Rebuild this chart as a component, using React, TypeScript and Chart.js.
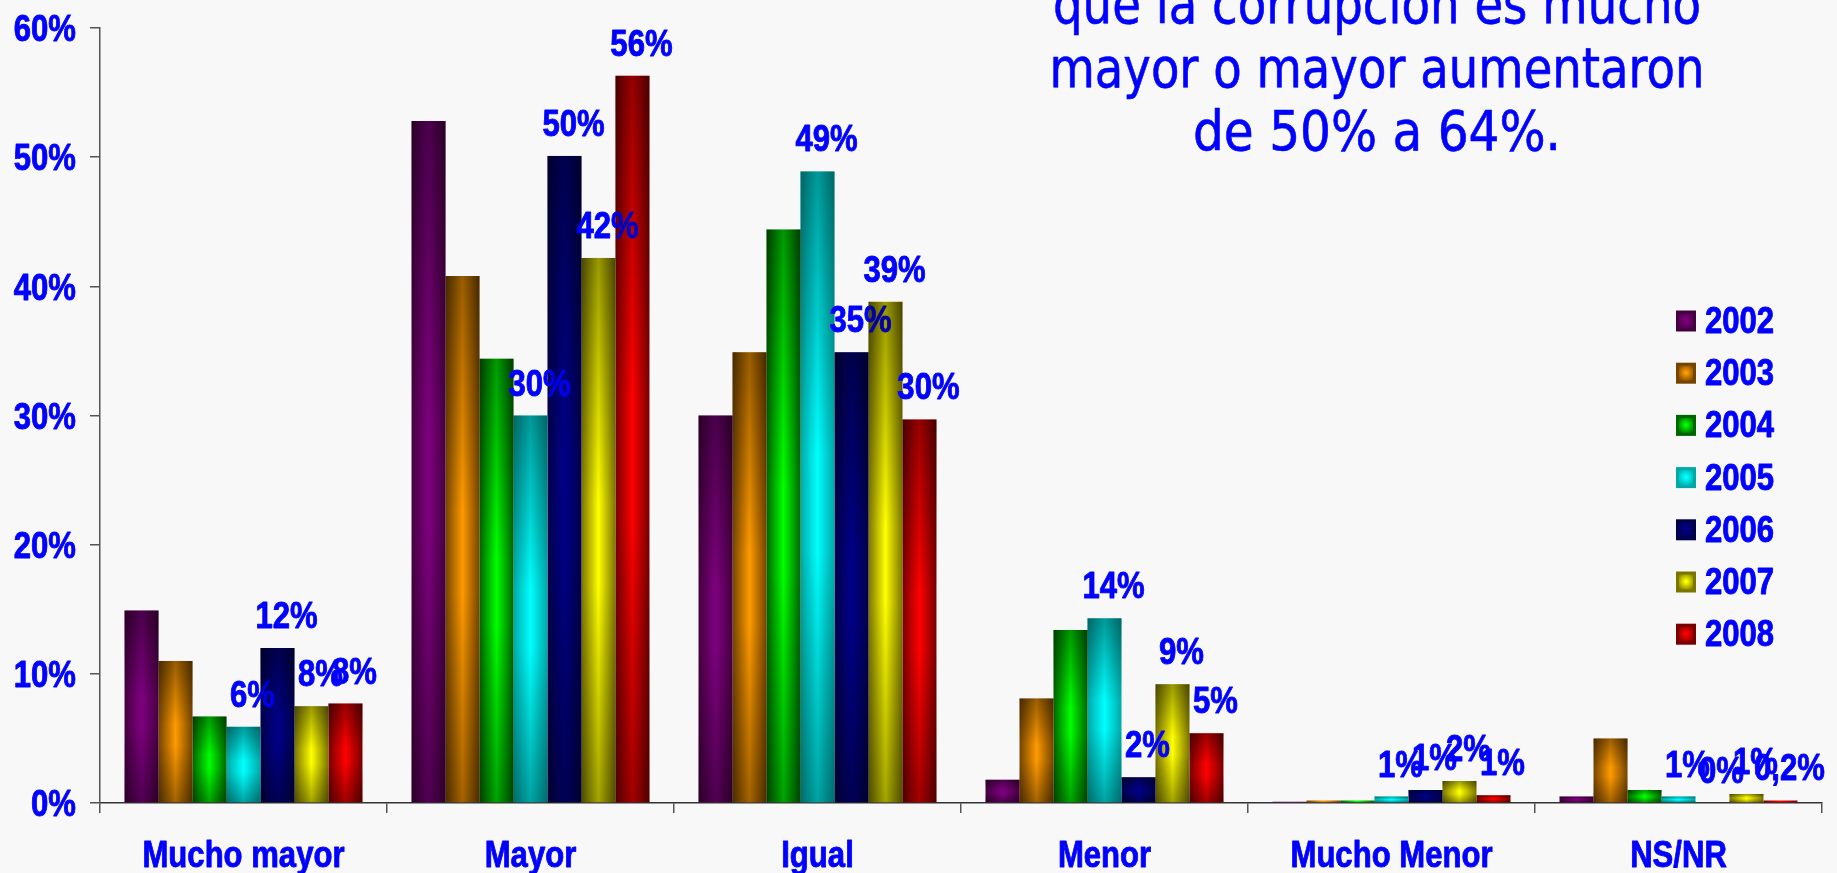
import React, { useEffect, useRef } from "react";
import { Chart, registerables } from "chart.js";
Chart.register(...registerables);

const categories = ["Mucho mayor", "Mayor", "Igual", "Menor", "Mucho Menor", "NS/NR"];
const years = ["2002", "2003", "2004", "2005", "2006", "2007", "2008"];
const v2002 = [14.9, 52.8, 30.0, 1.8, 0.1, 0.5];
const v2003 = [11.0, 40.8, 34.9, 8.1, 0.2, 5.0];
const v2004 = [6.7, 34.4, 44.4, 13.4, 0.2, 1.0];
const v2005 = [5.9, 30.0, 48.9, 14.3, 0.5, 0.5];
const v2006 = [12.0, 50.1, 34.9, 2.0, 1.0, 0.0];
const v2007 = [7.5, 42.2, 38.8, 9.2, 1.7, 0.7];
const v2008 = [7.7, 56.3, 29.7, 5.4, 0.6, 0.2];
const l2005 = ["6%", "30%", "49%", "14%", "1%", "1%"];
const l2006 = ["12%", "50%", "35%", "2%", "1%", "0%"];
const l2007 = ["8%", "42%", "39%", "9%", "2%", "1%"];
const l2008 = ["8%", "56%", "30%", "5%", "1%", "0,2%"];
const yTicks = [0, 10, 20, 30, 40, 50, 60];
const seriesValues = [v2002, v2003, v2004, v2005, v2006, v2007, v2008];
const seriesLabels: (string[] | null)[] = [null, null, null, l2005, l2006, l2007, l2008];
const darkColors = ["#45003f", "#744400", "#006400", "#00a8a8", "#00004a", "#7a7400", "#780000"];
const brightColors = ["#7e0080", "#ff9a00", "#00ff00", "#00ffff", "#000088", "#ffff00", "#ff0000"];
const titleLines = ["que la corrupción es mucho", "mayor o mayor aumentaron", "de 50% a 64%."];
const titleWidths = [648, 655, 368];

const BOLD_FONT = "'Liberation Sans', Arial, sans-serif";
const TITLE_FONT = "'DejaVu Sans Condensed', 'DejaVu Sans', sans-serif";
const BLUE = "#0000ff";
const LBL_SIZE = 37;
const LBL_SX = 0.84;

function drawText(ctx: CanvasRenderingContext2D, text: string, x: number, y: number, align: string, font: string, sx: number, stroke = 0) {
  ctx.save();
  ctx.font = font;
  ctx.fillStyle = BLUE;
  ctx.strokeStyle = BLUE;
  ctx.textAlign = "left";
  ctx.textBaseline = "alphabetic";
  const w = ctx.measureText(text).width * sx;
  const left = align === "center" ? x - w / 2 : align === "right" ? x - w : x;
  ctx.translate(left, y);
  ctx.scale(sx, 1);
  ctx.fillText(text, 0, 0);
  if (stroke > 0) {
    ctx.lineWidth = stroke;
    ctx.lineJoin = "round";
    ctx.strokeText(text, 0, 0);
  }
  ctx.restore();
}

const boldFont = `bold ${LBL_SIZE}px ${BOLD_FONT}`;

const decor = {
  id: "decor",
  beforeDraw(chart: any) {
    const ctx = chart.ctx;
    ctx.save();
    ctx.fillStyle = "#f8f8f8";
    ctx.fillRect(0, 0, chart.width, chart.height);
    ctx.restore();
  },
  beforeDatasetsDraw(chart: any) {
    const ctx = chart.ctx;
    chart.data.datasets.forEach((ds: any, di: number) => {
      const meta = chart.getDatasetMeta(di);
      meta.data.forEach((el: any) => {
        const l = el.x - el.width / 2;
        const r = el.x + el.width / 2;
        const g = ctx.createLinearGradient(l, 0, r, 0);
        g.addColorStop(0, darkColors[di]);
        g.addColorStop(0.5, brightColors[di]);
        g.addColorStop(1, darkColors[di]);
        try {
          el.options.backgroundColor = g;
        } catch (e) {}
      });
    });
  },
  afterDatasetsDraw(chart: any) {
    const ctx = chart.ctx;
    chart.data.datasets.forEach((ds: any, di: number) => {
      const meta = chart.getDatasetMeta(di);
      meta.data.forEach((el: any, i: number) => {
        const l = el.x - el.width / 2;
        const top = Math.min(el.y, el.base);
        const h = Math.abs(el.base - el.y);
        if (h > 2) {
          ctx.save();
          const g = ctx.createLinearGradient(0, top, 0, top + h);
          g.addColorStop(0, "rgba(0,0,0,0.4)");
          g.addColorStop(0.45, "rgba(0,0,0,0)");
          g.addColorStop(0.6, "rgba(0,0,0,0)");
          g.addColorStop(1, "rgba(0,0,0,0.36)");
          ctx.fillStyle = g;
          ctx.fillRect(l, top, el.width, h);
          ctx.restore();
        }
        const labels = seriesLabels[di];
        if (labels && labels[i]) {
          drawText(ctx, labels[i], el.x + 9, top - 20, "center", boldFont, LBL_SX, 0.9);
        }
      });
    });
  },
  afterDraw(chart: any) {
    const ctx = chart.ctx;
    const ys = chart.scales.y;
    const xs = chart.scales.x;
    yTicks.forEach((t) => {
      const py = ys.getPixelForValue(t);
      drawText(ctx, t + "%", ys.right - 24, py + 13.3, "right", boldFont, LBL_SX, 0.9);
    });
    categories.forEach((c, i) => {
      const px = xs.getPixelForValue(i);
      drawText(ctx, c, px, 867, "center", boldFont, LBL_SX, 0.9);
    });
    const lx = 1676;
    const ly0 = 320.5;
    const step = 52.2;
    years.forEach((y, i) => {
      const cy = ly0 + i * step;
      const s = 20;
      ctx.save();
      ctx.fillStyle = darkColors[i];
      ctx.fillRect(lx, cy - s / 2, s, s + 1);
      const g = ctx.createRadialGradient(lx + s / 2, cy, 1, lx + s / 2, cy, s / 2);
      g.addColorStop(0, brightColors[i]);
      g.addColorStop(1, darkColors[i]);
      ctx.fillStyle = g;
      ctx.fillRect(lx + 3, cy - s / 2 + 3, s - 6, s - 5);
      ctx.restore();
      drawText(ctx, y, 1705, cy + 12.5, "left", boldFont, LBL_SX, 0.9);
    });
    const baselines = [23, 87, 150];
    titleLines.forEach((t, i) => {
      ctx.save();
      ctx.font = `55px ${TITLE_FONT}`;
      const w = ctx.measureText(t).width;
      ctx.restore();
      drawText(ctx, t, 1377, baselines[i], "center", `55px ${TITLE_FONT}`, titleWidths[i] / w, 0.6);
    });
  },
};

export default function App() {
  const ref = useRef<HTMLCanvasElement | null>(null);
  useEffect(() => {
    if (!ref.current) return;
    document.body.style.margin = "0";
    const chart = new Chart(ref.current, {
      type: "bar",
      data: {
        labels: categories,
        datasets: years.map((y, i) => ({
          label: y,
          data: seriesValues[i],
          backgroundColor: () => brightColors[i],
          borderWidth: 0,
          barPercentage: 1,
          categoryPercentage: 0.829,
        })),
      },
      options: {
        responsive: false,
        animation: false,
        events: [],
        layout: { padding: { left: 0, right: 15, top: 28, bottom: 0 } },
        plugins: { legend: { display: false }, tooltip: { enabled: false }, title: { display: false } },
        scales: {
          x: {
            grid: { display: true, drawOnChartArea: false, drawTicks: true, tickLength: 10, color: "#555", offset: true, lineWidth: 1.5 },
            border: { display: true, color: "#333", width: 1.5 },
            ticks: { display: false },
            afterFit: (s: any) => { s.height = 70; },
          },
          y: {
            min: 0,
            max: 60,
            grid: { display: true, drawOnChartArea: false, drawTicks: true, tickLength: 10, color: "#555", lineWidth: 1.5 },
            border: { display: true, color: "#555", width: 1.5 },
            ticks: { display: false, stepSize: 10 },
            afterFit: (s: any) => { s.width = 100; },
          },
        },
      },
      plugins: [decor],
    });
    return () => chart.destroy();
  }, []);
  return (
    <div style={{ position: "fixed", left: 0, top: 0, width: 1837, height: 873, background: "#f8f8f8", overflow: "hidden" }}>
      <canvas ref={ref} width={1837} height={873} style={{ width: 1837, height: 873, display: "block" }} />
    </div>
  );
}
